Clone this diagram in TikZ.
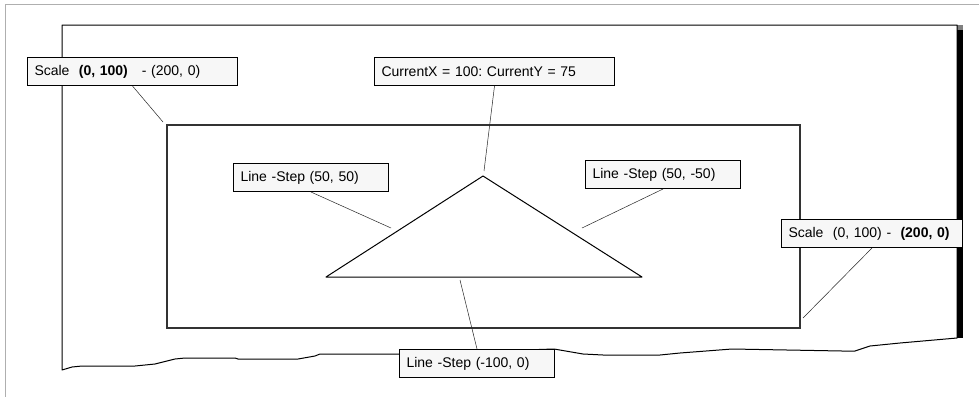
\documentclass[tikz,border=0pt]{standalone}
\usepackage{fontspec}
\setmainfont{Liberation Sans}
\usepackage{tikz}
\definecolor{boxgray}{RGB}{247,247,247}
\definecolor{edgegray}{RGB}{175,175,175}
\tikzstyle{callout} = [draw=black, fill=boxgray, line width=1pt, rectangle, anchor=north west, inner xsep=7pt, inner ysep=0pt, minimum height=28pt, align=left, font=\fontsize{14}{16}\selectfont\frenchspacing]
\tikzstyle{leader} = [draw=black!85, line width=0.5pt]

\begin{document}
\begin{tikzpicture}[x=1pt,y=-1pt]
\useasboundingbox (0,0) rectangle (979,397);
\fill[white] (0,0) rectangle (979,397);
\draw[edgegray, line width=1pt] (979,4) -- (5,4) -- (5,397);
% window frame with torn bottom edge
\fill[black] (957,30) rectangle (963,338);
\fill[gray] (957,25) rectangle (963,30);
\draw[line width=1pt, line join=round] (62,370) -- (62,25) -- (957,25) -- (957,338)
    -- (900,343) -- (870,346) -- (855,351) -- (842,351) -- (732,349) -- (680,353)
    -- (660,355) -- (603,355) -- (583,354) -- (554,349) -- (399,354) -- (320,354)
    -- (315,356) -- (298,359) -- (238,359) -- (235,358) -- (185,358) -- (175,359)
    -- (155,364) -- (135,366) -- (82,366) -- (72,367) -- cycle;
% scale area and triangle
\draw[black!80, line width=1.2pt] (167,125) rectangle (800,328);
\coordinate (lv) at (326,277);
\coordinate (apex) at (483,176);
\coordinate (rv) at (642,277);
\draw[line width=1pt, line join=round] (lv) -- (apex) -- (rv) -- cycle;
% leader ends
\coordinate (tipTL) at (163,122);
\coordinate (tipXY) at (484,171);
\coordinate (tipA) at (391,228);
\coordinate (tipB) at (582,228);
\coordinate (tipBR) at (803,318);
\coordinate (tipC) at (460,280);
% callouts
\node[callout, text width=196pt] (scaleTL) at (27,57) {Scale\ \ \textbf{(0, 100)}\ \ \ - (200, 0)};
\node[callout, text width=226pt] (curXY) at (374,57) {CurrentX = 100: CurrentY = 75};
\node[callout, text width=141pt] (stepA) at (233,163) {Line -Step (50, 50)};
\node[callout, text width=141pt] (stepB) at (585,160) {Line -Step (50, -50)};
\node[callout, text width=167pt] (scaleBR) at (781,219) {Scale\ \ (0, 100) -\ \ \textbf{(200, 0)}};
\node[callout, text width=141pt] (stepC) at (399,349) {Line -Step (-100, 0)};
\draw[leader] (scaleTL.south) -- (tipTL);
\draw[leader] (curXY.south) -- (tipXY);
\draw[leader] (stepA.south) -- (tipA);
\draw[leader] (stepB.south) -- (tipB);
\draw[leader] (scaleBR.south) -- (tipBR);
\draw[leader] (stepC.north) -- (tipC);
\end{tikzpicture}
\end{document}
